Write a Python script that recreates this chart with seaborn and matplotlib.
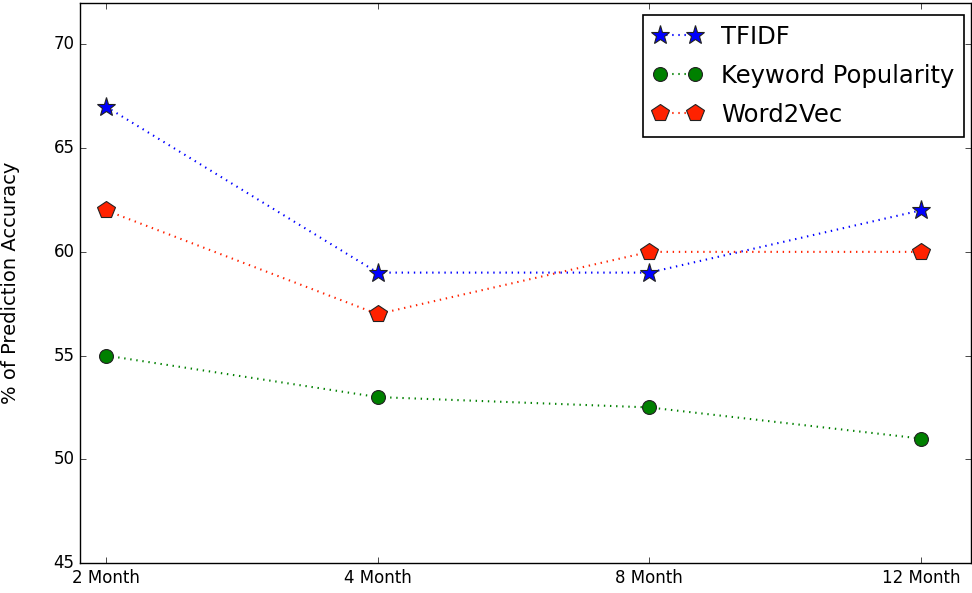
import matplotlib
matplotlib.use("Agg")
import matplotlib.pyplot as plt
import seaborn as sns
import pandas as pd

plt.style.use("classic")
plt.rcParams["font.family"] = ["DejaVu Sans"]

periods = ["2 Month", "4 Month", "8 Month", "12 Month"]
tfidf = [67, 59, 59, 62]
keyword = [55, 53, 52.5, 51]
word2vec = [62, 57, 60, 60]
series_names = ["TFIDF", "Keyword Popularity", "Word2Vec"]

fig = plt.figure(figsize=(9.72, 5.93), dpi=100)
ax = fig.add_axes([0.0823, 0.0506, 0.9167, 0.9444])

pos = list(range(len(periods)))
styles = [
    (tfidf, "blue", "*", 14),
    (keyword, "green", "o", 10),
    (word2vec, "#ff2200", "p", 13),
]
for name, (vals, col, mk, ms) in zip(series_names, styles):
    df = pd.DataFrame({"x": pos, "y": vals})
    sns.lineplot(data=df, x="x", y="y", ax=ax, color=col, marker=mk,
                 markersize=ms, markeredgecolor="#222222", markeredgewidth=0.8,
                 linewidth=1.5, dashes=False, label=name)
    ax.lines[-1].set_dashes((1.0, 3.4))
    ax.lines[-1].set_alpha(1.0)

ax.set_xlim(-0.096, 3.185)
ax.set_ylim(45, 72)
ax.set_xticks(pos)
ax.set_xticklabels(periods, fontsize=12)
ax.set_yticks([45, 50, 55, 60, 65, 70])
ax.set_yticklabels(["45", "50", "55", "60", "65", "70"], fontsize=12)
ax.set_xlabel("")
ax.set_ylabel("% of Prediction Accuracy", fontsize=14)
ax.yaxis.set_label_coords(-0.067, 0.5)

leg = ax.legend(loc="upper right", fontsize=17.5, numpoints=2,
                bbox_to_anchor=(964 / 972, 1 - 15 / 593),
                bbox_transform=fig.transFigure, borderaxespad=0.0,
                handlelength=2.05, handletextpad=0.75, labelspacing=0.62,
                fancybox=False)
leg.get_frame().set_edgecolor("black")
leg.get_frame().set_linewidth(1.2)

fig.savefig("out.png", dpi=100)
